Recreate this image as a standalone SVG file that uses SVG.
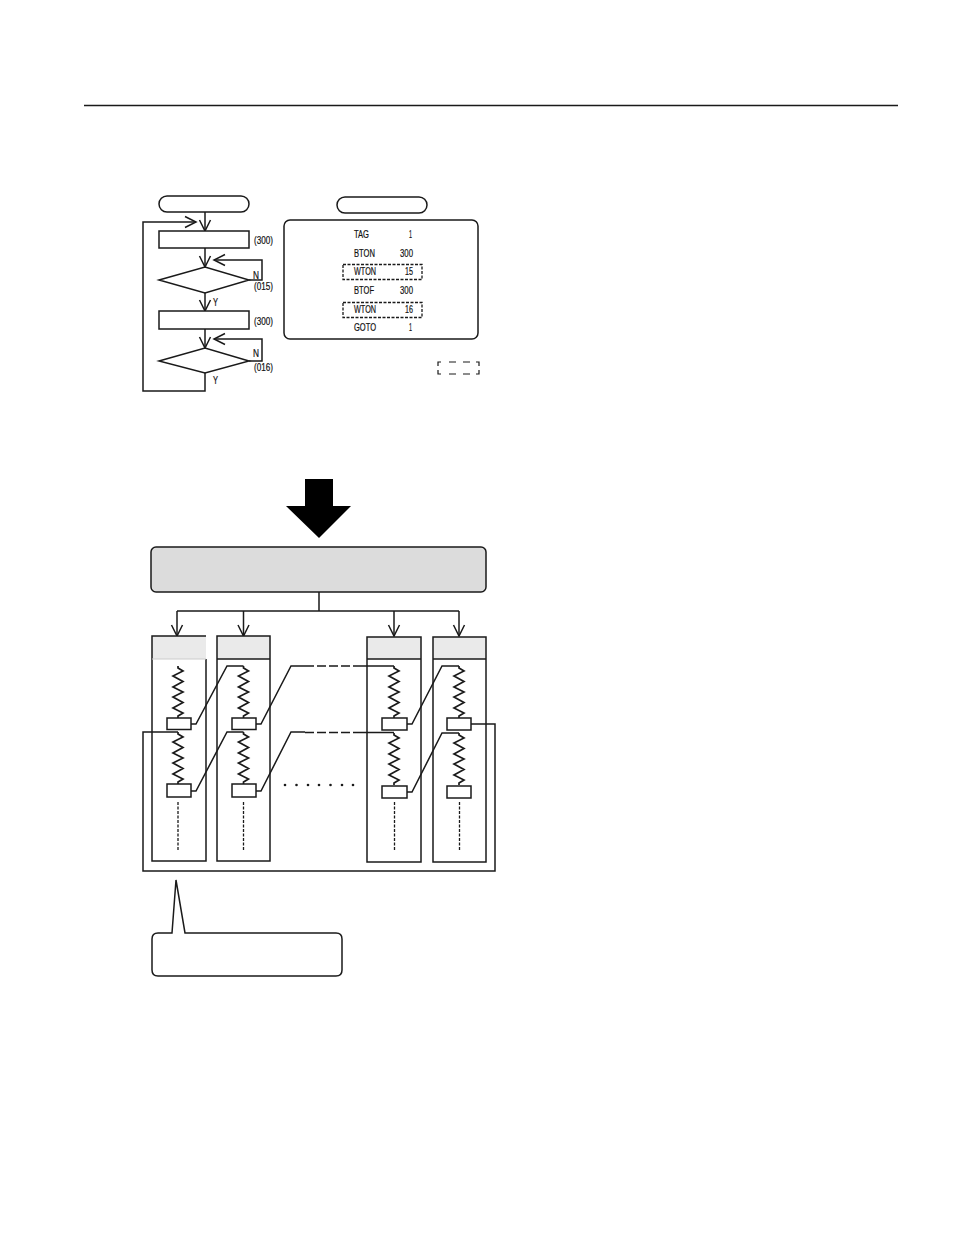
<svg xmlns="http://www.w3.org/2000/svg" width="954" height="1235" viewBox="0 0 954 1235">
<style>
.s{fill:none;stroke:#1a1a1a;stroke-width:1.5}
.b{fill:#fff;stroke:#1a1a1a;stroke-width:1.5}
.h{fill:#eaeaea;stroke:none}
.d{fill:none;stroke:#1a1a1a;stroke-width:1.3;stroke-dasharray:3 1.5}
.a{fill:none;stroke:#1a1a1a;stroke-width:1.5;marker-end:url(#v)}
text{font-family:"Liberation Sans",Arial,sans-serif;fill:#111;stroke:#111;stroke-width:0.2;font-size:11px}
.sm{font-size:10px}
</style>
<defs>
<marker id="v" markerUnits="userSpaceOnUse" viewBox="-12 -7 14 14" refX="0" refY="0" markerWidth="14" markerHeight="14" orient="auto" overflow="visible">
<path d="M-11 -5.500L0 0L-11 5.500" fill="none" stroke="#1a1a1a" stroke-width="1.500"/>
</marker>
<path id="zig" d="M0 0V2L5 5L-5 10L5 15.500L-5 21L5 26L-5 31L5 36.500L-5 42L5 47L0 50V52" fill="none" stroke="#1a1a1a" stroke-width="1.700"/>
</defs>
<rect width="954" height="1235" fill="#fff"/>
<path id="top-rule" d="M84 105.500H898" fill="none" stroke="#1a1a1a" stroke-width="1.500"/>

<g id="connectors">
<path class="a" d="M205 212V231"/>
<path class="a" d="M205 248V267"/>
<path class="a" d="M205 293V311"/>
<path class="a" d="M205 329V348"/>
<path class="a" d="M249 280H262V260H214"/>
<path class="a" d="M249 361H262V339H214"/>
<path class="a" d="M205 373V391H143V222H196"/>
<path class="s" d="M319 592V611M177 611H459"/>
<path class="a" d="M177 611V636"/>
<path class="a" d="M243.500 611V636"/>
<path class="a" d="M394 611V636"/>
<path class="a" d="M459 611V636"/>
</g>

<g id="start-left"><rect class="b" x="159" y="196" width="90" height="16" rx="8"/></g>
<g id="step-1"><rect class="b" x="159" y="231" width="90" height="17"/><text x="254" y="244" class="sm" textLength="19" lengthAdjust="spacingAndGlyphs">(300)</text></g>
<g id="decision-1"><path class="b" d="M159 280L205 267L249 280L205 293Z"/><text x="253" y="279" class="sm" textLength="6" lengthAdjust="spacingAndGlyphs">N</text><text x="254" y="290" class="sm" textLength="19" lengthAdjust="spacingAndGlyphs">(015)</text><text x="213" y="306" class="sm" textLength="5" lengthAdjust="spacingAndGlyphs">Y</text></g>
<g id="step-2"><rect class="b" x="159" y="311" width="90" height="18"/><text x="254" y="325" class="sm" textLength="19" lengthAdjust="spacingAndGlyphs">(300)</text></g>
<g id="decision-2"><path class="b" d="M159 361L205 348L249 361L205 373Z"/><text x="253" y="357" class="sm" textLength="6" lengthAdjust="spacingAndGlyphs">N</text><text x="254" y="371" class="sm" textLength="19" lengthAdjust="spacingAndGlyphs">(016)</text><text x="213" y="384" class="sm" textLength="5" lengthAdjust="spacingAndGlyphs">Y</text></g>

<g id="start-right"><rect class="b" x="337" y="197" width="90" height="16" rx="8"/></g>
<g id="program-panel">
<rect class="b" x="284" y="220" width="194" height="119" rx="6"/>
<rect class="d" x="343" y="264.500" width="79" height="15"/>
<rect class="d" x="343" y="302.500" width="79" height="15"/>
<text x="354" y="238" textLength="15" lengthAdjust="spacingAndGlyphs">TAG</text><text x="412" y="238" text-anchor="end" textLength="3" lengthAdjust="spacingAndGlyphs">1</text>
<text x="354" y="257" textLength="21" lengthAdjust="spacingAndGlyphs">BTON</text><text x="400" y="257" textLength="13" lengthAdjust="spacingAndGlyphs">300</text>
<text x="354" y="275" textLength="22" lengthAdjust="spacingAndGlyphs">WTON</text><text x="405" y="275" textLength="8" lengthAdjust="spacingAndGlyphs">15</text>
<text x="354" y="294" textLength="20" lengthAdjust="spacingAndGlyphs">BTOF</text><text x="400" y="294" textLength="13" lengthAdjust="spacingAndGlyphs">300</text>
<text x="354" y="313" textLength="22" lengthAdjust="spacingAndGlyphs">WTON</text><text x="405" y="313" textLength="8" lengthAdjust="spacingAndGlyphs">16</text>
<text x="354" y="331" textLength="22" lengthAdjust="spacingAndGlyphs">GOTO</text><text x="412" y="331" text-anchor="end" textLength="3" lengthAdjust="spacingAndGlyphs">1</text>
</g>
<g id="legend-dash"><path fill="none" stroke="#1a1a1a" stroke-width="1.200" d="M438 366V362H441M449 362H456M463 362H470M476 362H479V366M438 370V374H441M449 374H456M463 374H470M476 374H479V370"/></g>

<g id="big-arrow"><path d="M305 479H333V506H351L319 538L286 506H305Z" fill="#000"/></g>
<g id="controller"><rect x="151" y="547" width="335" height="45" rx="5" fill="#dcdcdc" stroke="#1a1a1a" stroke-width="1.500"/></g>

<g id="column-1">
<rect class="h" x="152" y="636" width="54" height="23"/>
<path class="s" d="M206 659V861H152V636H206"/>
<path d="M152 659H206" fill="none" stroke="#ccc" stroke-width="1"/>
<use href="#zig" x="178" y="666"/><use href="#zig" x="178" y="732"/>
<rect class="b" x="167" y="718" width="24" height="11.500"/><rect class="b" x="167" y="784" width="24" height="13"/>
<path class="d" d="M178 802V850"/>
</g>
<g id="column-2">
<rect class="h" x="217" y="636" width="53" height="23"/>
<rect class="s" x="217" y="636" width="53" height="225"/><path class="s" d="M217 659H270"/>
<use href="#zig" x="243.500" y="666"/><use href="#zig" x="243.500" y="732"/>
<rect class="b" x="232" y="718" width="24" height="11.500"/><rect class="b" x="232" y="784" width="24" height="13"/>
<path class="d" d="M243.500 802V850"/>
</g>
<g id="column-3">
<rect class="h" x="367" y="637" width="54" height="22"/>
<rect class="s" x="367" y="637" width="54" height="225"/><path class="s" d="M367 659H421"/>
<use href="#zig" x="394" y="666"/><use href="#zig" x="394" y="733"/>
<rect class="b" x="382" y="718" width="25" height="12"/><rect class="b" x="382" y="786" width="25" height="12"/>
<path class="d" d="M394.500 802V851"/>
</g>
<g id="column-4">
<rect class="h" x="433" y="637" width="53" height="22"/>
<rect class="s" x="433" y="637" width="53" height="225"/><path class="s" d="M433 659H486"/>
<use href="#zig" x="459" y="666"/><use href="#zig" x="459" y="733"/>
<rect class="b" x="447" y="718" width="24" height="12"/><rect class="b" x="447" y="786" width="24" height="12"/>
<path class="d" d="M459.500 802V851"/>
</g>

<g id="links">
<path class="s" d="M191 724H196L227 666H243.500"/>
<path class="s" d="M191 791H196L227 732H243.500"/>
<path class="s" d="M256 724H261L291 666H305"/>
<path class="s" d="M256 791H261L291 732H305"/>
<path class="s" d="M305 666H357" stroke-dasharray="9 3"/>
<path class="s" d="M305 732.500H357" stroke-dasharray="9 3"/>
<path class="s" d="M357 666H394"/>
<path class="s" d="M357 732.500H394"/>
<path class="s" d="M407 724H412L442 666H459"/>
<path class="s" d="M407 792H412L442 733H459"/>
<path class="s" d="M471 724H495V871H143V732H178"/>
</g>
<g id="dots" fill="#1a1a1a"><circle cx="285" cy="785" r="1.300"/><circle cx="296.500" cy="785" r="1.300"/><circle cx="308" cy="785" r="1.300"/><circle cx="319" cy="785" r="1.300"/><circle cx="330.500" cy="785" r="1.300"/><circle cx="342" cy="785" r="1.300"/><circle cx="353" cy="785" r="1.300"/></g>

<g id="callout"><path class="b" d="M158 933H172L176 880L185 933H336Q342 933 342 939V970Q342 976 336 976H158Q152 976 152 970V939Q152 933 158 933Z"/></g>
</svg>
